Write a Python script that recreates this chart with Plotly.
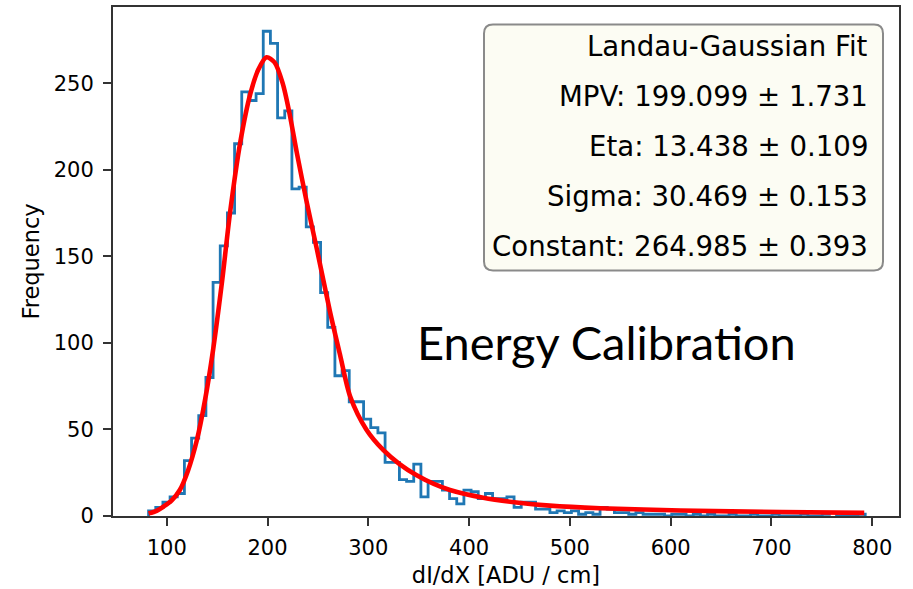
import plotly.graph_objects as go

# ---------------- data ----------------
bin_start = 82.0          # first histogram bin edge (dI/dX)
bin_width = 7.11          # histogram bin width
counts = [3, 5, 8, 11, 13, 32, 45, 58, 80, 135,
          156, 175, 215, 245, 240, 244, 280, 273, 230, 234,
          189, 190, 167, 158, 129, 109, 81, 84, 66, 66,
          56, 51, 48, 31, 31, 21, 20, 30, 11, 20,
          20, 15, 10, 7, 15, 14, 10, 13, 10, 10,
          11, 5, 8, 8, 4, 4, 2, 3, 2, 3,
          1, 2, 1, 5, 4, 2, 2, 1, 2, 1,
          1, 1, 0, 1, 1, 0, 1, 0, 1, 0,
          0, 1, 0, 0, 1, 0, 0, 1, 0, 0,
          0, 1, 0, 0, 1, 2, 0, 0, 0, 1]

fit_x = [82, 90, 97, 105, 113, 121, 130, 138, 146, 155, 163, 173, 183, 191,
         199, 207, 215, 222, 229, 239, 249, 262, 272, 282, 298, 315, 331, 348,
         365, 381, 414, 447, 480, 530, 610, 710, 792]
fit_y = [1.5, 3, 5.5, 9, 15, 26, 44, 67, 96, 136, 176, 216, 244, 258,
         265, 262, 250, 232, 210, 181, 154, 118, 93, 69, 50, 38, 30, 23.5,
         18.5, 15, 10.5, 7.8, 6, 4.5, 3.2, 2.3, 1.8]

x_ticks = [100, 200, 300, 400, 500, 600, 700, 800]
y_ticks = [0, 50, 100, 150, 200, 250]

box_lines = ["Landau-Gaussian Fit",
             "MPV: 199.099 ± 1.731",
             "Eta: 13.438 ± 0.109",
             "Sigma: 30.469 ± 0.153",
             "Constant: 264.985 ± 0.393"]
overlay_text = "Energy Calibration"
x_title = "dI/dX [ADU / cm]"
y_title = "Frequency"

# ---------------- geometry ----------------
W, H = 913, 589
L, R, T, B = 113, 899, 6.5, 515.7


def px(x):
    return (x - L) / (R - L)


def py(y):
    return (B - y) / (B - T)


# step outline (matplotlib histtype='step')
edges = [bin_start + bin_width * i for i in range(len(counts) + 1)]
step_x = [edges[0]] + edges[:-1] + [edges[-1], edges[-1]]
step_y = [0] + counts + [counts[-1], 0]

fig = go.Figure()
fig.add_trace(go.Scatter(x=step_x, y=step_y, mode="lines", line_shape="hv",
                         line=dict(color="#1f77b4", width=2.8),
                         hoverinfo="skip"))
fig.add_trace(go.Scatter(x=fit_x, y=fit_y, mode="lines", line_shape="spline",
                         line=dict(color="red", width=4.6, smoothing=0.8),
                         hoverinfo="skip"))

axis_common = dict(showgrid=False, zeroline=False, showline=True, mirror=True,
                   linecolor="#333333", linewidth=2, ticks="outside",
                   ticklen=8, tickwidth=2, tickcolor="#333333",
                   tickfont=dict(family="DejaVu Sans", size=21, color="black"))

fig.update_layout(
    width=W, height=H,
    margin=dict(l=L, r=W - R, t=T, b=H - B, autoexpand=False),
    plot_bgcolor="white", paper_bgcolor="white", showlegend=False,
    font=dict(family="DejaVu Sans", color="black"),
    xaxis=dict(range=[46.7, 826.5], tickvals=x_ticks, ticklabelstandoff=4,
               title=dict(text=x_title, standoff=8,
                          font=dict(family="DejaVu Sans", size=22.5)),
               **axis_common),
    yaxis=dict(range=[0, 294], tickvals=y_ticks, ticklabelstandoff=5,
               title=dict(text=y_title, standoff=8,
                          font=dict(family="DejaVu Sans", size=22.5)),
               **axis_common),
)

# rounded stats box
bx0, bx1, by0, by1 = px(484), px(883), py(270), py(24)
rx, ry = 9 / (R - L), 9 / (B - T)
path = (f"M {bx0 + rx},{by1} L {bx1 - rx},{by1} Q {bx1},{by1} {bx1},{by1 - ry} "
        f"L {bx1},{by0 + ry} Q {bx1},{by0} {bx1 - rx},{by0} "
        f"L {bx0 + rx},{by0} Q {bx0},{by0} {bx0},{by0 + ry} "
        f"L {bx0},{by1 - ry} Q {bx0},{by1} {bx0 + rx},{by1} Z")
fig.add_shape(type="path", path=path, xref="paper", yref="paper",
              fillcolor="#fcfcf3", line=dict(color="#8a8a8a", width=2),
              layer="above")

line_centres = [46, 96, 146, 196, 246]
for txt, yc in zip(box_lines, line_centres):
    fig.add_annotation(text=txt, x=px(870), y=py(yc), xref="paper", yref="paper",
                       xanchor="right", yanchor="middle", showarrow=False,
                       font=dict(family="DejaVu Sans", size=27.6, color="black"))

fig.add_annotation(text=overlay_text, x=px(606.5), y=py(342), xref="paper",
                   yref="paper", xanchor="center", yanchor="middle",
                   showarrow=False,
                   font=dict(family="Lato", size=47, color="black"))

fig.write_html("out.html")
